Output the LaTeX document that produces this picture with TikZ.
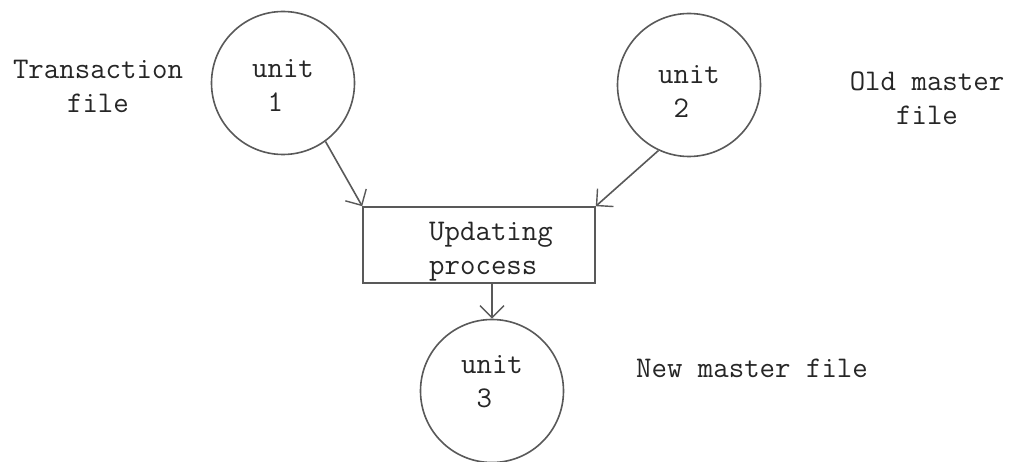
\documentclass[tikz,border=0pt]{standalone}
\usetikzlibrary{arrows.meta}
\begin{document}
\begin{tikzpicture}[x=1pt,y=-1pt,
  font=\ttfamily\fontsize{30}{34}\selectfont,
  ln/.style={draw=black!65, line width=1.6pt},
  unitc/.style={ln, circle, minimum size=143pt, inner sep=0pt},
  intext/.style={align=left, text=black!85, inner sep=0pt},
  procbox/.style={ln, rectangle, minimum width=232pt, minimum height=76pt, inner sep=0pt},
  lbl/.style={align=center, text=black!85, inner sep=0pt},
  conn/.style={ln, -{Straight Barb[length=12pt,width=24pt,line width=1.4pt]}},
]
\useasboundingbox (0,0) rectangle (1013,462);
\fill[white] (0,0) rectangle (1013,462);

\node[unitc, label={[intext, yshift=-2pt]center:{unit\\\hphantom{u}1}}] (c1) at (283,83) {};
\node[unitc, label={[intext, yshift=-6pt]center:{unit\\\hphantom{u}2}}] (c2) at (689,85) {};
\node[unitc, label={[intext, yshift=9pt]center:{unit\\\hphantom{u}3}}] (c3) at (492,391) {};

\node[procbox] (box) at (479,245) {};
\node[lbl, align=left] (boxtext) at (491,252) {Updating\\process};

\node[lbl] (tf) at (98,86) {Transaction\\file};
\node[lbl] (om) at (927,98) {Old master\\file};
\node[lbl, anchor=base] (nm) at (752,378) {New master file};

\draw[conn] (c1.-54) -- (box.north west);
\draw[conn] (c2.-115) -- (box.north east);
\draw[conn] (c3.north |- box.south) -- (c3.north);
\end{tikzpicture}
\end{document}
